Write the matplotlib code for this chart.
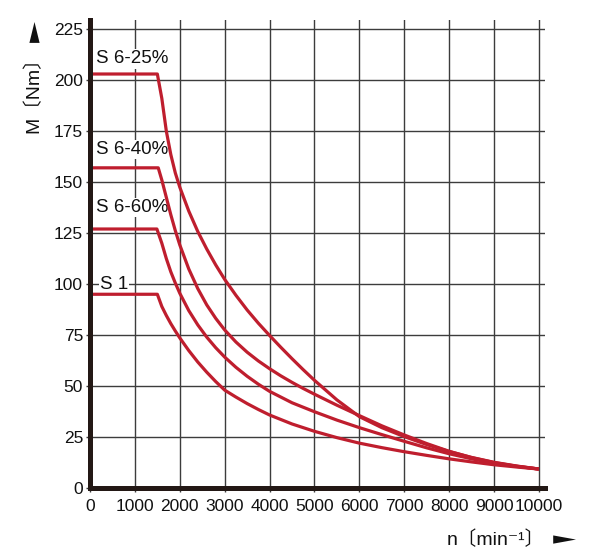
import matplotlib.pyplot as plt
from matplotlib.patches import Polygon

# speed n [min-1] and torque M [Nm]
n_25 = [0, 1500, 1600, 1700, 1800, 1900, 2000, 2200, 2400, 2600, 2800, 3000, 3250, 3500, 3750, 4000,
        4250, 4500, 4750, 5000, 5500, 6000, 6500, 7000, 7500, 8000, 8500, 9000, 9500, 10000]
m_25 = [203, 203, 191, 175, 163.5, 154.5, 147.5, 135.8, 125.8, 117.2, 109.4, 102.3, 94.5, 87.3, 80.8, 74.8,
        69, 63.4, 58, 52.8, 43.2, 35, 29.6, 25.2, 21.3, 17.9, 15, 12.6, 10.8, 9.3]

n_40 = [0, 1520, 1600, 1700, 1800, 1900, 2000, 2200, 2400, 2600, 2800, 3000, 3250, 3500, 3750, 4000,
        4250, 4500, 4750, 5000, 5500, 6000, 6500, 7000, 7500, 8000, 8500, 9000, 9500, 10000]
m_40 = [157, 157, 151, 142.5, 134, 126.2, 119.2, 107.4, 97.8, 89.8, 83.2, 77.5, 71.6, 66.6, 62.3, 58.5,
        55, 51.8, 48.8, 46, 40.6, 35.5, 30.5, 26, 21.8, 18, 14.9, 12.5, 10.7, 9.3]

n_60 = [0, 1490, 1600, 1700, 1800, 1900, 2000, 2200, 2400, 2600, 2800, 3000, 3250, 3500, 3750, 4000,
        4500, 5000, 5500, 6000, 6500, 7000, 7500, 8000, 8500, 9000, 9500, 10000]
m_60 = [127, 127, 120, 112.5, 106, 100.5, 95.5, 87, 80, 74, 68.8, 64.2, 59.2, 54.8, 50.9, 47.4,
        41.8, 37.4, 33.3, 29.6, 26.2, 22.9, 19.7, 16.8, 14.3, 12.2, 10.6, 9.3]

n_s1 = [0, 1500, 1600, 1700, 1800, 1900, 2000, 2200, 2400, 2600, 2800, 3000, 3250, 3500, 3750, 4000,
        4500, 5000, 5500, 6000, 6500, 7000, 7500, 8000, 8500, 9000, 9500, 10000]
m_s1 = [95, 95, 89, 84.6, 80.6, 77, 73.6, 67.4, 61.8, 56.8, 52.2, 48, 44.6, 41.4, 38.5, 35.8,
        31.4, 27.8, 24.7, 22, 19.8, 17.8, 16, 14.3, 12.8, 11.4, 10.3, 9.3]

series = [(n_25, m_25), (n_40, m_40), (n_60, m_60), (n_s1, m_s1)]
curve_labels = ['S 6-25%', 'S 6-40%', 'S 6-60%', 'S 1']
label_pos = [(140, 210.5), (140, 166), (140, 137.5), (220, 100)]

x_ticks = list(range(0, 10001, 1000))
y_ticks = list(range(0, 226, 25))

FONT = ['Liberation Sans', 'Noto Sans CJK SC', 'DejaVu Sans']
plt.rcParams['font.family'] = FONT

red = '#bf1e2e'
dark = '#231815'
gridc = '#3c3c3c'
txtc = '#111111'

fig = plt.figure(figsize=(6, 5.5), dpi=100)
ax = fig.add_axes([0.15, 0.1127, 0.758, 0.851])

# grid drawn by hand so the lines run past the last tick like the original
for xv in x_ticks[1:]:
    ax.axvline(xv, color=gridc, lw=1.0, zorder=1)
for yv in y_ticks[1:]:
    ax.axhline(yv, color=gridc, lw=1.0, zorder=1)

for (nx, my) in series:
    ax.plot(nx, my, color=red, lw=2.3, solid_joinstyle='round', solid_capstyle='butt', zorder=3)

# labels sit on white boxes that hide the grid but not the curves
for txt, (xp, yp) in zip(curve_labels, label_pos):
    ax.text(xp, yp, txt, fontsize=13.5, ha='left', va='center', color=txtc, zorder=2,
            bbox=dict(facecolor='white', edgecolor='none', pad=1.0))

ax.set_xlim(0, 10130)
ax.set_ylim(0, 229.5)
ax.set_xticks(x_ticks)
ax.set_yticks(y_ticks)
ax.tick_params(axis='both', direction='out', length=3, width=1, color=gridc,
               labelsize=12.5, labelcolor=txtc)
ax.tick_params(axis='x', pad=5)
ax.tick_params(axis='y', pad=2)

for s in ['top', 'right']:
    ax.spines[s].set_visible(False)
for s in ['left', 'bottom']:
    ax.spines[s].set_linewidth(3.6)
    ax.spines[s].set_color(dark)
    ax.spines[s].set_zorder(5)

# axis titles with arrows
fig.text(0.056, 0.836, 'M\u3014Nm\u3015', rotation=90, fontsize=14, ha='center', va='center',
         color=txtc)
fig.text(0.826, 0.019, 'n\u3014min\u207b\u00b9\u3015', fontsize=14, ha='center', va='center',
         color=txtc)
fig.patches.append(Polygon([[0.049, 0.922], [0.066, 0.922], [0.0575, 0.96]], closed=True,
                           transform=fig.transFigure, facecolor=txtc, edgecolor='none'))
fig.patches.append(Polygon([[0.922, 0.0115], [0.922, 0.0265], [0.96, 0.019]], closed=True,
                           transform=fig.transFigure, facecolor=txtc, edgecolor='none'))

fig.savefig('out.png', dpi=100)
